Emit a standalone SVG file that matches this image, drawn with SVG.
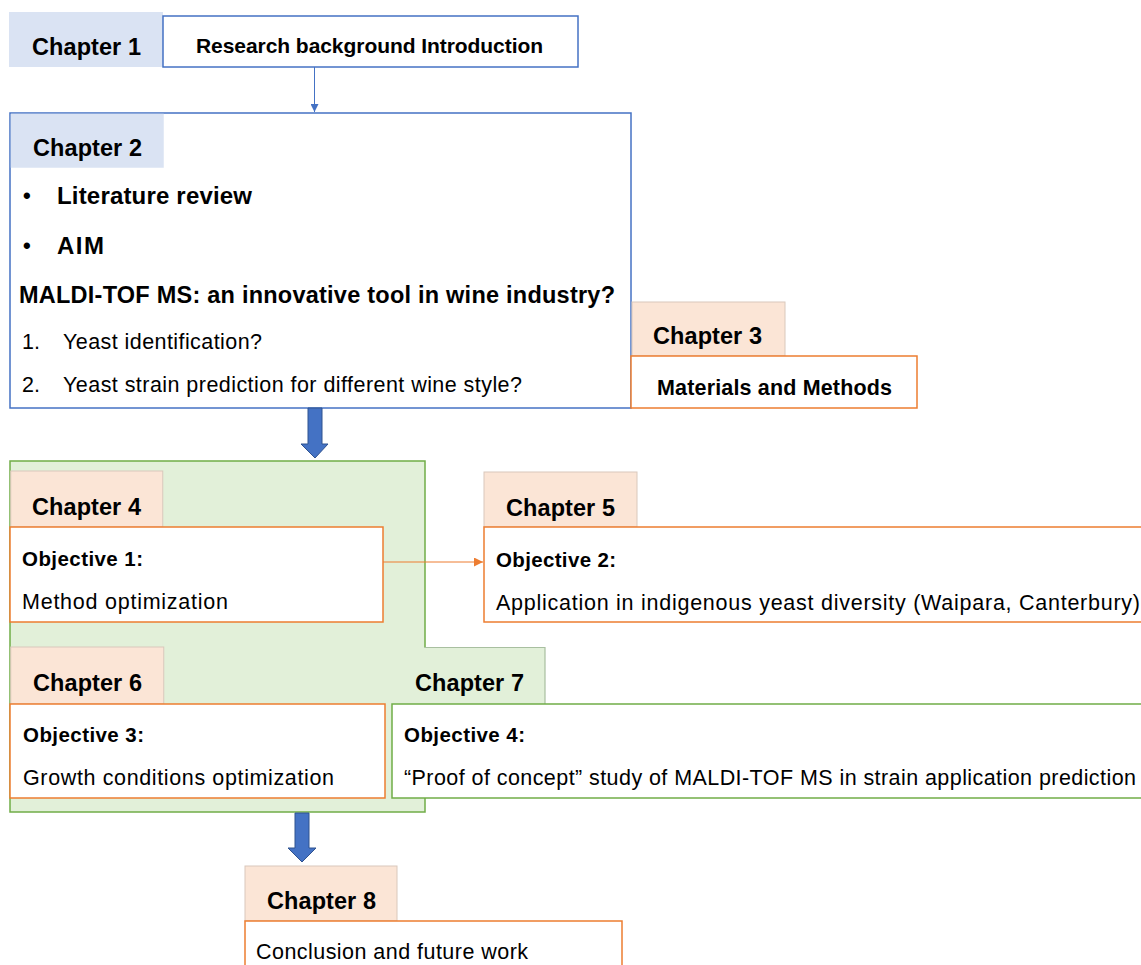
<svg xmlns="http://www.w3.org/2000/svg" width="1141" height="965" viewBox="0 0 1141 965">
<defs>
<style>
text{font-family:"Liberation Sans",Arial,sans-serif;fill:#000}
.ch{font-size:23.5px;font-weight:bold}
.b{font-weight:bold}
.r{font-size:21.5px}
.ob{font-size:20.5px;font-weight:bold}
.blue{fill:#dae3f3;stroke:none}
.peach{fill:#fbe5d6;stroke:#d9c8bc;stroke-width:1}
.bbox{fill:#fff;stroke:#4472c4;stroke-width:1.5}
.obox{fill:#fff;stroke:#ed7d31;stroke-width:1.5}
.gbox{fill:#fff;stroke:#70ad47;stroke-width:1.5}
.big{fill:#4472c4;stroke:#2f528f;stroke-width:1}
</style>
<marker id="ab" viewBox="0 0 10 10" refX="10" refY="5" markerWidth="8" markerHeight="8" markerUnits="userSpaceOnUse" orient="auto"><path d="M0,0 L10,5 L0,10 z" fill="#4472c4"/></marker>
<marker id="ao" viewBox="0 0 10 10" refX="10" refY="5" markerWidth="9" markerHeight="9" markerUnits="userSpaceOnUse" orient="auto"><path d="M0,0 L10,5 L0,10 z" fill="#ed7d31"/></marker>
</defs>

<g id="ch1">
<rect class="blue" x="9" y="12" width="154" height="55"/>
<rect class="bbox" x="163" y="16" width="415" height="51"/>
<text class="ch" x="32" y="55" textLength="109">Chapter 1</text>
<text class="b" x="196" y="53" font-size="21" textLength="347">Research background Introduction</text>
</g>

<g id="ch2">
<rect class="bbox" x="10" y="113" width="621" height="295"/>
<rect class="blue" x="10.75" y="113.75" width="153" height="54"/>
<text class="ch" x="33" y="156" textLength="109">Chapter 2</text>
<text class="b" x="23" y="203" font-size="22">•</text>
<text class="b" x="57" y="204" font-size="24" textLength="195">Literature review</text>
<text class="b" x="23" y="253" font-size="22">•</text>
<text class="b" x="57" y="254" font-size="24" textLength="47">AIM</text>
<text class="b" x="19" y="303" font-size="23.5" textLength="596">MALDI-TOF MS: an innovative tool in wine industry?</text>
<text class="r" x="22" y="349">1.</text>
<text class="r" x="63" y="349" textLength="199">Yeast identification?</text>
<text class="r" x="22" y="392">2.</text>
<text class="r" x="63" y="392" textLength="459">Yeast strain prediction for different wine style?</text>
</g>

<g id="ch3">
<rect class="peach" x="632" y="302" width="153" height="54"/>
<rect class="obox" x="631" y="356" width="286" height="52"/>
<text class="ch" x="653" y="344" textLength="109">Chapter 3</text>
<text class="b" x="657" y="395" font-size="21.5" textLength="235">Materials and Methods</text>
</g>

<g id="group-green">
<rect x="10" y="461" width="415" height="351" fill="#e2f0d9" stroke="#70ad47" stroke-width="1.5"/>
<rect x="392" y="647.5" width="153" height="57" fill="#e2f0d9"/>
<path d="M424.5,647.5 H545 V704" fill="none" stroke="#a8bfa0" stroke-width="1.2"/>
</g>

<g id="ch4">
<rect class="peach" x="10.75" y="471" width="152" height="56" stroke="none"/>
<rect class="obox" x="10" y="527" width="373" height="95"/>
<text class="ch" x="32" y="515" textLength="109">Chapter 4</text>
<text class="ob" x="22" y="566" textLength="121">Objective 1:</text>
<text class="r" x="22" y="609" textLength="206">Method optimization</text>
</g>

<g id="ch5">
<rect class="peach" x="484" y="472" width="153" height="55"/>
<rect class="obox" x="484" y="527" width="670" height="95"/>
<text class="ch" x="506" y="516" textLength="109">Chapter 5</text>
<text class="ob" x="496" y="567" textLength="120">Objective 2:</text>
<text class="r" x="496" y="610" textLength="644">Application in indigenous yeast diversity (Waipara, Canterbury)</text>
</g>

<g id="ch6">
<rect class="peach" x="10.75" y="647" width="153" height="57" stroke="none"/>
<rect class="obox" x="10" y="704" width="375" height="94"/>
<text class="ch" x="33" y="691" textLength="109">Chapter 6</text>
<text class="ob" x="23" y="742" textLength="121">Objective 3:</text>
<text class="r" x="23" y="785" textLength="311">Growth conditions optimization</text>
</g>

<g id="ch7">
<rect class="gbox" x="392" y="704" width="760" height="94"/>
<text class="ch" x="415" y="691" textLength="109">Chapter 7</text>
<text class="ob" x="404" y="742" textLength="121">Objective 4:</text>
<text class="r" x="404" y="785" textLength="732">“Proof of concept” study of MALDI-TOF MS in strain application prediction</text>
</g>

<g id="ch8">
<rect class="peach" x="245" y="866" width="152" height="55"/>
<rect class="obox" x="245" y="921" width="377" height="60"/>
<text class="ch" x="267" y="909" textLength="109">Chapter 8</text>
<text class="r" x="256" y="959" textLength="272">Conclusion and future work</text>
</g>

<g id="connectors">
<line x1="314.5" y1="67" x2="314.5" y2="112" stroke="#4472c4" stroke-width="1" marker-end="url(#ab)"/>
<path class="big" d="M308,408 H322 V444 H328 L315,458 L301,444 H308 Z"/>
<line x1="383" y1="562" x2="483" y2="562" stroke="#ed7d31" stroke-width="1" marker-end="url(#ao)"/>
<path class="big" d="M295,813 H309 V848 H316 L302,862 L288,848 H295 Z"/>
</g>
</svg>
